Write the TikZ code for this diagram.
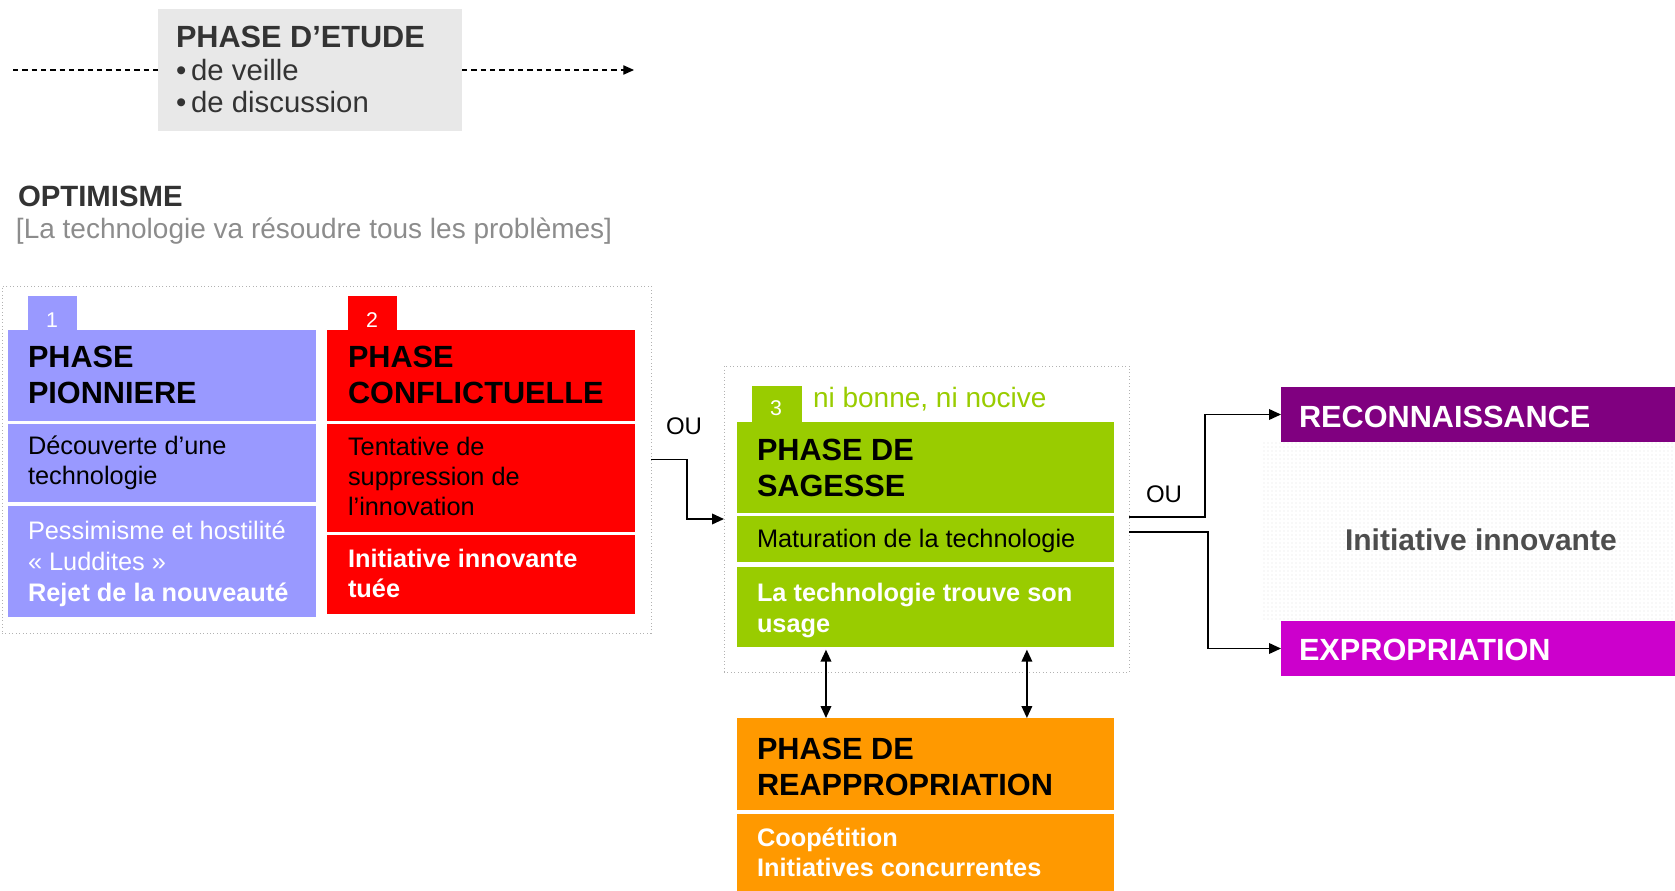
\documentclass[tikz,border=0pt]{standalone}
\usepackage{fontspec}
\setmainfont{Liberation Sans}
\usetikzlibrary{arrows.meta,calc,patterns}
\definecolor{cblue}{HTML}{9999FF}
\definecolor{cred}{HTML}{FF0000}
\definecolor{cgreen}{HTML}{99CC00}
\definecolor{corange}{HTML}{FF9900}
\definecolor{cpurple}{HTML}{800080}
\definecolor{cmagenta}{HTML}{CC00CC}
\definecolor{cgray}{HTML}{E8E8E8}
\definecolor{ctext}{HTML}{333333}
\definecolor{csub}{HTML}{8C8C8C}
\definecolor{cinit}{HTML}{4D4D4D}
\begin{document}
\begin{tikzpicture}[x=0.75pt,y=-0.75pt,
 blk/.style 2 args={inner sep=0, outer sep=0, anchor=north west, minimum width={#1*0.75pt}, minimum height={#2*0.75pt}},
 txt/.style={anchor=base west, inner sep=0, outer sep=0, align=left},
 hd/.style={txt, font=\bfseries\fontsize{23}{27}\selectfont},
 bd/.style={txt, font=\fontsize{19}{22.5}\selectfont},
 bdw/.style={txt, text=white, font=\bfseries\fontsize{19}{22.5}\selectfont},
 num/.style={anchor=base, inner sep=0, text=white, font=\fontsize{16}{18}\selectfont},
 dotbox/.style={draw=gray!60, dotted, line width=0.6pt},
 arr/.style={draw=black, line width=1.2pt, -{Triangle[length=9pt,width=8pt]}},
 darr/.style={draw=black, line width=1.2pt, {Triangle[length=9pt,width=8pt]}-{Triangle[length=9pt,width=8pt]}},
 ou/.style={txt, font=\fontsize{18}{20}\selectfont},
]
\useasboundingbox (0,0) rectangle (1675,891);

% Phase d'etude
\node[blk={304}{122}, fill=cgray] (etude) at (158,9) {};
\node[txt, text=ctext, font=\bfseries\fontsize{23}{24}\selectfont] (etT) at (176,48) {PHASE D’ETUDE};
\node[txt, text=ctext, font=\fontsize{22}{24}\selectfont] (etB) at (176,113) {•\,de veille\\•\,de discussion};
\coordinate (dl) at (13,70);
\coordinate (dr) at (634,70);
\draw[dash pattern=on 4pt off 3pt, line width=0.8pt] (dl) -- (etude.west);
\draw[dash pattern=on 4pt off 3pt, line width=0.8pt, -{Triangle[length=8pt,width=7pt]}] (etude.east) -- (dr);

% Optimisme
\node[txt, text=ctext, font=\bfseries\fontsize{22}{24}\selectfont] (opt) at (18,207) {OPTIMISME};
\node[txt, text=csub, font=\fontsize{21}{24}\selectfont] (optsub) at (16,239) {[La technologie va résoudre tous les problèmes]};

% Box 1
\node[blk={649}{347}, dotbox] (box1) at (2,286) {};
\node[blk={49}{35}, fill=cblue] (tab1) at (28,296) {};
\node[blk={308}{91}, fill=cblue] (b1) at (8,330) {};
\node[blk={308}{78}, fill=cblue] (b2) at (8,424) {};
\node[blk={308}{111}, fill=cblue] (b3) at (8,506) {};
\node[blk={49}{35}, fill=cred] (tab2) at (348,296) {};
\node[blk={308}{91}, fill=cred] (r1) at (327,330) {};
\node[blk={308}{108}, fill=cred] (r2) at (327,424) {};
\node[blk={308}{79}, fill=cred] (r3) at (327,535) {};
\node[num] (n1) at (52,328) {1};
\node[num] (n2) at (372,328) {2};
\node[hd] (b1t) at (28,403) {PHASE\\PIONNIERE};
\node[bd] (b2t) at (28,484) {Découverte d’une\\technologie};
\node[txt, text=white, font=\fontsize{19}{23.25}\selectfont] (b3t) at (28,601) {Pessimisme et hostilité\\«~Luddites~»\\\textbf{Rejet de la nouveauté}};
\node[hd] (r1t) at (348,403) {PHASE\\CONFLICTUELLE};
\node[bd] (r2t) at (348,515) {Tentative de\\suppression de\\l’innovation};
\node[bdw] (r3t) at (348,597) {Initiative innovante\\tuée};

% Box 3
\node[blk={405}{306}, dotbox] (box3) at (724,366) {};
\node[blk={50}{37}, fill=cgreen] (tab3) at (752,386) {};
\node[blk={377}{91}, fill=cgreen] (g1) at (737,422) {};
\node[blk={377}{46}, fill=cgreen] (g2) at (737,516) {};
\node[blk={377}{80}, fill=cgreen] (g3) at (737,567) {};
\node[num] (n3) at (776,415) {3};
\node[txt, text=cgreen, font=\fontsize{21}{24}\selectfont] (nib) at (813,407) {ni bonne, ni nocive};
\node[hd] (g1t) at (757,496) {PHASE DE\\SAGESSE};
\node[bd] (g2t) at (757,547) {Maturation de la technologie};
\node[txt, text=white, font=\bfseries\fontsize{19}{23}\selectfont] (g3t) at (757,632) {La technologie trouve son\\usage};

% Orange
\node[blk={377}{92}, fill=corange] (o1) at (737,718) {};
\node[blk={377}{82}, fill=corange] (o2) at (737,814) {};
\node[hd] (o1t) at (757,795) {PHASE DE\\REAPPROPRIATION};
\node[bdw] (o2t) at (757,876) {Coopétition\\Initiatives concurrentes};

% Right
\fill[pattern=dots, pattern color=gray!25] (1262,442) rectangle (1680,621);
\node[blk={420}{55}, fill=cpurple] (reco) at (1281,387) {};
\node[blk={420}{55}, fill=cmagenta] (expro) at (1281,621) {};
\node[hd, text=white] (recot) at (1299,427) {RECONNAISSANCE};
\node[hd, text=white] (exprot) at (1299,660) {EXPROPRIATION};
\node[txt, text=cinit, font=\bfseries\fontsize{22.5}{24}\selectfont] (init) at (1345,550) {Initiative innovante};

% Connectors
\draw[arr] (box1.east) -- ++(36,0) |- (box3.west);
\node[ou] (ou1) at (666,434) {OU};
\draw[arr] ([yshift=1.5pt]box3.east) -- ++(76,0) |- (reco.west);
\draw[arr] ([yshift=-9.75pt]box3.east) -- ++(79,0) |- (expro.west);
\node[ou] (ou2) at (1146,502) {OU};
\draw[darr, shorten <=2pt] ($(g3.south west)!0.236!(g3.south east)$) -- ($(o1.north west)!0.236!(o1.north east)$);
\draw[darr, shorten <=2pt] ($(g3.south west)!0.769!(g3.south east)$) -- ($(o1.north west)!0.769!(o1.north east)$);
\end{tikzpicture}
\end{document}
